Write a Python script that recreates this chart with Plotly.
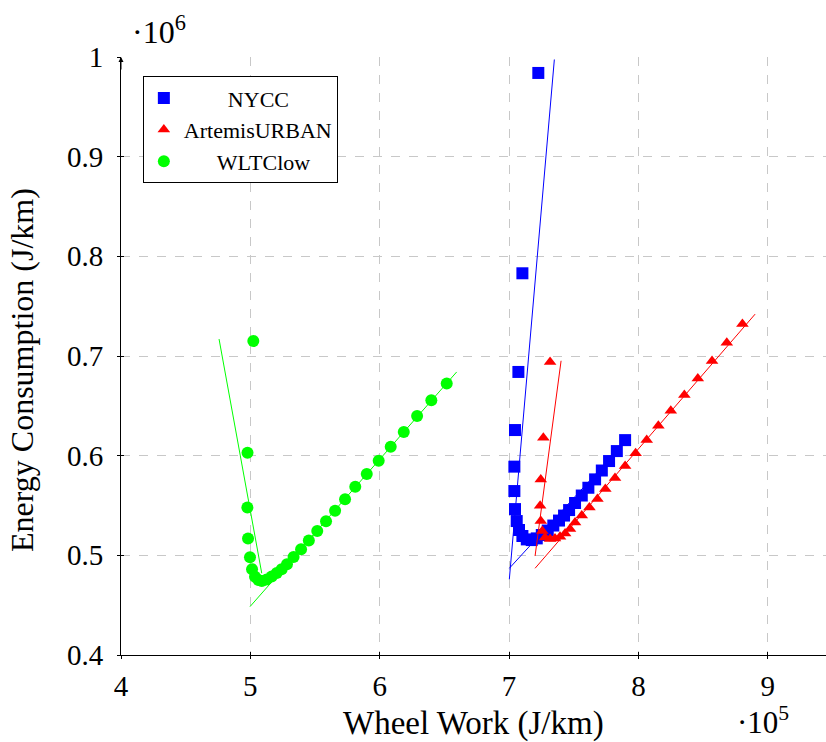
import plotly.graph_objects as go

# Wheel work in units of 1e5 J/km, energy consumption in units of 1e6 J/km

# NYCC cycle
nycc_x = [7.226, 7.103, 7.072, 7.046, 7.041, 7.041, 7.046, 7.059, 7.077, 7.103,
          7.137, 7.175, 7.214, 7.253, 7.299, 7.342, 7.386, 7.425, 7.464, 7.510,
          7.562, 7.613, 7.665, 7.717, 7.773, 7.833, 7.897]
nycc_y = [0.984, 0.783, 0.684, 0.6257, 0.589, 0.5645, 0.5464, 0.5344, 0.5254, 0.5194,
          0.5160, 0.5153, 0.5170, 0.5204, 0.5249, 0.5299, 0.5349, 0.5399, 0.5454, 0.5525,
          0.5600, 0.5678, 0.5762, 0.5851, 0.5946, 0.6046, 0.6156]

# Artemis urban cycle
art_x = [7.317, 7.265, 7.245, 7.240, 7.245, 7.257, 7.278, 7.317, 7.355, 7.394,
         7.433, 7.471, 7.510, 7.562, 7.621, 7.683, 7.744, 7.819, 7.897, 7.978,
         8.064, 8.154, 8.250, 8.355, 8.459, 8.569, 8.683, 8.804]
art_y = [0.694, 0.618, 0.576, 0.5497, 0.5344, 0.5244, 0.518, 0.5163, 0.517, 0.5187,
         0.522, 0.5264, 0.5329, 0.5399, 0.5481, 0.5565, 0.5665, 0.5775, 0.5896, 0.6023,
         0.6156, 0.630, 0.645, 0.6608, 0.6775, 0.6949, 0.7132, 0.732]

# WLTC low-speed phase
wltc_x = [5.023, 4.978, 4.977, 4.982, 4.997, 5.013, 5.036, 5.062, 5.088, 5.126,
          5.165, 5.204, 5.242, 5.283, 5.334, 5.392, 5.452, 5.517, 5.585, 5.655,
          5.732, 5.811, 5.900, 5.992, 6.085, 6.186, 6.289, 6.399, 6.518]
wltc_y = [0.715, 0.603, 0.548, 0.517, 0.498, 0.486, 0.4785, 0.4752, 0.4742, 0.4757,
          0.4787, 0.4822, 0.486, 0.491, 0.4983, 0.506, 0.5148, 0.5244, 0.5342, 0.5447,
          0.5562, 0.5688, 0.5815, 0.5949, 0.6089, 0.6237, 0.6397, 0.6555, 0.6725]

# Linear fits: steep branch and shallow branch, each given by its two end points
nycc_fit_steep_x = [7.002, 7.350]
nycc_fit_steep_y = [0.476, 0.9975]
nycc_fit_flat_x = [7.002, 7.920]
nycc_fit_flat_y = [0.487, 0.617]

art_fit_steep_x = [7.201, 7.402]
art_fit_steep_y = [0.4993, 0.6952]
art_fit_flat_x = [7.201, 8.902]
art_fit_flat_y = [0.487, 0.742]

wltc_fit_steep_x = [4.758, 5.088]
wltc_fit_steep_y = [0.717, 0.482]
wltc_fit_flat_x = [4.997, 6.595]
wltc_fit_flat_y = [0.4485, 0.684]

x_ticks = [4, 5, 6, 7, 8, 9]
x_ticktext = ["4", "5", "6", "7", "8", "9"]
y_ticks = [0.4, 0.5, 0.6, 0.7, 0.8, 0.9, 1.0]
y_ticktext = ["0.4", "0.5", "0.6", "0.7", "0.8", "0.9", "1"]

BLUE = "#0000ff"
RED = "#ff0000"
GREEN = "#00ff00"
FONT = "Liberation Serif"
NBSP = "\u00a0"


def centred(name, pad):
    """Legend label nudged right so the entries read as centred."""
    return NBSP * pad + name


fig = go.Figure()

fig.add_trace(go.Scatter(x=nycc_x, y=nycc_y, mode="markers", name=centred("NYCC", 8),
                         marker=dict(symbol="square", size=12, color=BLUE)))
for fx, fy in [(nycc_fit_steep_x, nycc_fit_steep_y), (nycc_fit_flat_x, nycc_fit_flat_y)]:
    fig.add_trace(go.Scatter(x=fx, y=fy, mode="lines", showlegend=False,
                             line=dict(color=BLUE, width=1)))

fig.add_trace(go.Scatter(x=art_x, y=art_y, mode="markers", name="ArtemisURBAN",
                         marker=dict(symbol="triangle-up", size=11, color=RED)))
for fx, fy in [(art_fit_steep_x, art_fit_steep_y), (art_fit_flat_x, art_fit_flat_y)]:
    fig.add_trace(go.Scatter(x=fx, y=fy, mode="lines", showlegend=False,
                             line=dict(color=RED, width=1)))

fig.add_trace(go.Scatter(x=wltc_x, y=wltc_y, mode="markers", name=centred("WLTClow", 6),
                         marker=dict(symbol="circle", size=12, color=GREEN)))
for fx, fy in [(wltc_fit_steep_x, wltc_fit_steep_y), (wltc_fit_flat_x, wltc_fit_flat_y)]:
    fig.add_trace(go.Scatter(x=fx, y=fy, mode="lines", showlegend=False,
                             line=dict(color=GREEN, width=1)))

x_range = [4, 9.45]
y_range = [0.4, 1.0]
grid = dict(showgrid=True, gridcolor="#c8c8c8", griddash="dash", gridwidth=1)

fig.update_layout(
    width=826, height=742,
    margin=dict(l=121, r=0, t=57, b=87, autoexpand=False),
    paper_bgcolor="white", plot_bgcolor="white",
    font=dict(family=FONT, size=29, color="black"),
    xaxis=dict(range=x_range, tickvals=x_ticks, ticktext=x_ticktext,
               showline=True, linecolor="black", linewidth=1,
               ticks="outside", ticklen=3, tickcolor="black",
               tickfont=dict(family=FONT, size=29),
               zeroline=False, automargin=False, ticklabelstandoff=2, **grid),
    yaxis=dict(range=y_range, tickvals=y_ticks, ticktext=y_ticktext,
               showline=True, linecolor="black", linewidth=1,
               ticks="outside", ticklen=3, tickcolor="black",
               tickfont=dict(family=FONT, size=29),
               zeroline=False, automargin=False, ticklabelstandoff=8, **grid),
    # companion axes supplying the inner half of each tick mark
    xaxis2=dict(range=x_range, overlaying="x", side="bottom", anchor="y",
                tickvals=x_ticks, showticklabels=False, ticks="inside",
                ticklen=3, tickcolor="black", showgrid=False, zeroline=False),
    yaxis2=dict(range=y_range, overlaying="y", side="left", anchor="x",
                tickvals=y_ticks, showticklabels=False, ticks="inside",
                ticklen=3, tickcolor="black", showgrid=False, zeroline=False),
    legend=dict(x=0.031, y=0.968, xanchor="left", yanchor="top",
                bgcolor="white", bordercolor="black", borderwidth=1,
                font=dict(family=FONT, size=22), itemwidth=30,
                tracegroupgap=0),
    showlegend=True,
)

# dummy trace to activate the companion axes
fig.add_trace(go.Scatter(x=[None], y=[None], xaxis="x2", yaxis="y2",
                         showlegend=False, hoverinfo="skip"))

fig.add_annotation(xref="paper", yref="paper", x=0, y=1, ax=0, ay=14,
                   showarrow=True, arrowhead=2, arrowsize=1, arrowwidth=1,
                   arrowcolor="black", text="")

fig.add_annotation(xref="paper", yref="paper", x=-0.1404, y=0.4766,
                   xanchor="center", yanchor="middle",
                   text="Energy Consumption (J/km)", textangle=-90,
                   showarrow=False, font=dict(family=FONT, size=32))
fig.add_annotation(xref="paper", yref="paper", x=0.5, y=0, yshift=-68,
                   xanchor="center", yanchor="middle",
                   text="Wheel Work (J/km)",
                   showarrow=False, font=dict(family=FONT, size=33))
fig.add_annotation(xref="paper", yref="paper", x=0.0128, y=1, yshift=27,
                   xanchor="left", yanchor="middle",
                   text="·10<sup>6</sup>", showarrow=False,
                   font=dict(family=FONT, size=32))
fig.add_annotation(xref="paper", yref="paper", x=0.871, y=0, yshift=-65,
                   xanchor="left", yanchor="middle",
                   text="·10<sup>5</sup>", showarrow=False,
                   font=dict(family=FONT, size=31))

fig.write_html("out.html")
